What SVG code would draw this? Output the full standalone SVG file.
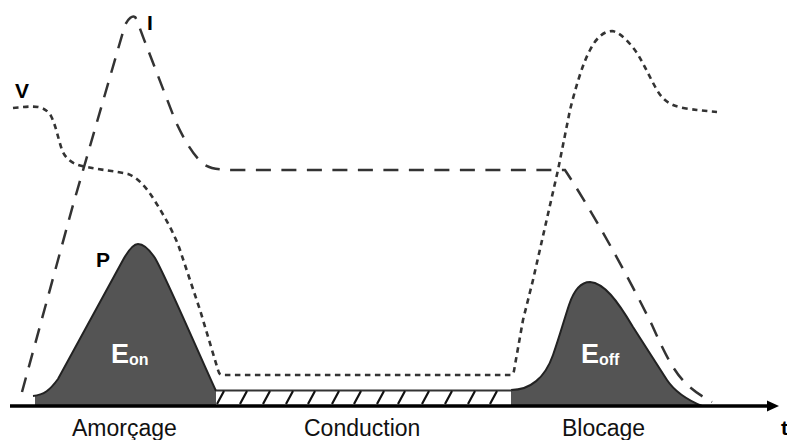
<svg xmlns="http://www.w3.org/2000/svg" width="787" height="440" viewBox="0 0 787 440">
<style>
.s{font-family:"Liberation Sans",Arial,sans-serif}
.lab{font-size:23px;fill:#111}
.b{font-weight:bold;font-size:21px;fill:#000}
.w{fill:#fff;font-weight:bold}
.area{fill:#545454;stroke:none}
.top{fill:none;stroke:#222;stroke-width:2}
.v{fill:none;stroke:#333;stroke-width:2.6;stroke-dasharray:5.5 4.5}
.i{fill:none;stroke:#333;stroke-width:2.5;stroke-dasharray:15 10.5}
.h{stroke:#111;stroke-width:2.2}
</style>
<defs><marker id="arr" markerUnits="userSpaceOnUse" markerWidth="13" markerHeight="14" refX="1" refY="7" orient="auto"><path d="M0 1.5L12 7L0 12.5Z" fill="#000"/></marker></defs>
<g id="eon">
<path class="area" d="M35 406V396C44 395 50 390 58 379L123 260C128 251 133 244 138 244C144 244 149 249 155 258C165 275 195 345 216 391V406Z"/>
<path class="top" d="M33 396C44 395 50 390 58 379L123 260C128 251 133 244 138 244C144 244 149 249 155 258C165 275 195 345 216 391"/>
<text class="s w" x="111" y="363" font-size="27">E<tspan font-size="16" dy="2">on</tspan></text>
</g>
<g id="eoff">
<path class="area" d="M511 406V390C530 390 545 378 553 355C560 335 564 320 569 305C574 290 581 282 590 282C604 283 617 300 633 327L667 380C675 392 690 401 702 406Z"/>
<path class="top" d="M511 390C530 390 545 378 553 355C560 335 564 320 569 305C574 290 581 282 590 282C604 283 617 300 633 327L667 380C675 392 690 401 702 406"/>
<text class="s w" x="581" y="363" font-size="27">E<tspan font-size="16" dy="2">off</tspan></text>
</g>
<g id="conduction">
<path d="M216 390.500H512" stroke="#333" stroke-width="1.800" fill="none"/>
<path class="h" d="M217 404L224 391M240 404L247 391M263 404L270 391M286 404L293 391M308 404L315 391M332 404L339 391M354 404L361 391M377 404L384 391M398 404L405 391M422 404L429 391M445 404L452 391M468 404L475 391M490 404L497 391"/>
</g>
<g id="connectors">
<path class="v" d="M13 108C22 107 32 106 38 107C44 108 48 111 51 116C56 126 58 138 62 150C65 158 72 164 82 166C100 170 115 171 128 174C137 177 146 187 153 198C165 217 175 235 180 250L200 310L218 370C219 374 220 375 224 375H511C514 375 514 370 515 365L523 320L533 280L558 170L570 110C575 90 582 65 590 50C596 38 604 31 612 31C620 32 630 43 637 53C645 66 650 78 657 90C661 97 666 102 673 105C680 108 690 109 697 110L717 112"/>
<path class="i" d="M22 392L73 205L125 25C128 19 132 15 135 17C137 19 142 35 145 42L175 120C185 142 195 158 205 165C212 169 220 170 235 170H565C590 208 625 270 652 325C660 343 668 360 675 370C682 381 692 391 712 402"/>
<path d="M10 406H768" stroke="#000" stroke-width="3.600" fill="none" marker-end="url(#arr)"/>
</g>
<g id="labels">
<text class="s b" x="15" y="98">V</text>
<text class="s b" x="147" y="30">I</text>
<text class="s b" x="96" y="267">P</text>
<text class="s lab" x="72" y="436">Amorçage</text>
<text class="s lab" x="304" y="436">Conduction</text>
<text class="s lab" x="562" y="436">Blocage</text>
<text class="s b" x="781" y="435" font-size="24">t</text>
</g>
</svg>
